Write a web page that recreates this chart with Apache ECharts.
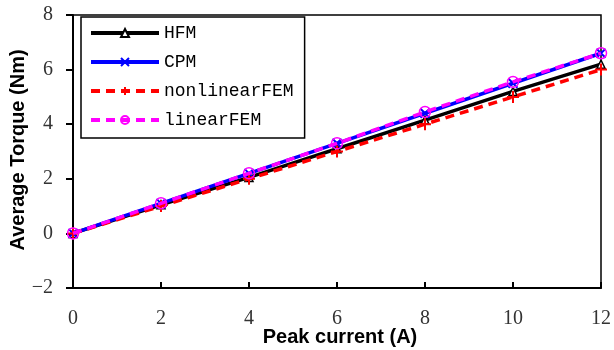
<!DOCTYPE html>
<html><head><meta charset="utf-8">
<script src="https://cdn.jsdelivr.net/npm/echarts@6/dist/echarts.min.js"></script>
<style>html,body{margin:0;padding:0;background:#fff}#c{width:614px;height:350px}</style>
</head><body><div id="c"></div>
<script>
const current = [0, 2, 4, 6, 8, 10, 12];
const hfm = [0, 1.05, 2.05, 3.1, 4.15, 5.2, 6.2];
const cpm = [0, 1.1, 2.2, 3.3, 4.4, 5.5, 6.6];
const nonlinearFEM = [0, 1.0, 2.0, 3.0, 4.0, 5.0, 6.0];
const linearFEM = [0, 1.1, 2.2, 3.3, 4.45, 5.55, 6.6];
const xTicks = [0, 2, 4, 6, 8, 10, 12];
const yTicks = [-2, 0, 2, 4, 6, 8];

const pair = arr => current.map((x, i) => [x, arr[i]]);
const chart = echarts.init(document.getElementById('c'), null, {renderer: 'canvas'});
const crossPath = 'path://M0,0L10,10M10,0L0,10';
const plusPath = 'path://M5,0L5,10M0,5L10,5';
chart.setOption({
  animation: false,
  grid: {left: 73, right: 2, top: 15, bottom: 62, show: true, borderColor: '#000', borderWidth: 1.5},
  xAxis: {
    type: 'value', min: 0, max: 12, interval: 2,
    axisLine: {show: true, onZero: false, lineStyle: {color: '#000', width: 2}},
    axisTick: {show: true, inside: true, length: 6, lineStyle: {color: '#000', width: 2}},
    axisLabel: {color: '#333', fontFamily: 'Liberation Serif', fontSize: 20, margin: 21,
      formatter: v => xTicks.includes(v) ? String(v) : ''},
    splitLine: {show: false}
  },
  yAxis: {
    type: 'value', min: -2, max: 8, interval: 2,
    axisLine: {show: true, onZero: false, lineStyle: {color: '#000', width: 2}},
    axisTick: {show: true, inside: false, length: 7, lineStyle: {color: '#000', width: 2}},
    axisLabel: {color: '#333', fontFamily: 'Liberation Serif', fontSize: 20, margin: 20,
      formatter: v => yTicks.includes(v) ? (v < 0 ? '\u2212' + (-v) : String(v)) : ''},
    splitLine: {show: false}
  },
  legend: {
    left: 81, top: 17, orient: 'vertical', itemGap: 11,
    itemWidth: 68, itemHeight: 10,
    backgroundColor: '#fff', borderColor: '#000', borderWidth: 1.5,
    padding: [7, 11, 9, 8],
    lineStyle: {width: 4},
    textStyle: {fontFamily: 'Liberation Mono', fontSize: 18, color: '#000'},
    data: ['HFM', 'CPM', 'nonlinearFEM', 'linearFEM']
  },
  series: [
    {name: 'HFM', type: 'line', data: pair(hfm), symbol: 'triangle', symbolSize: 8,
      lineStyle: {color: '#000', width: 3.5}, itemStyle: {color: '#fff', borderColor: '#000', borderWidth: 1.5}, z: 2},
    {name: 'CPM', type: 'line', data: pair(cpm), symbol: crossPath, symbolSize: 9,
      lineStyle: {color: '#0000ff', width: 3.5}, itemStyle: {color: 'none', borderColor: '#0000ff', borderWidth: 2}, z: 3},
    {name: 'nonlinearFEM', type: 'line', data: pair(nonlinearFEM), symbol: plusPath, symbolSize: 12,
      lineStyle: {color: '#ff0000', width: 3.5, type: [9, 6]}, itemStyle: {color: 'none', borderColor: '#ff0000', borderWidth: 2}, z: 4},
    {name: 'linearFEM', type: 'line', data: pair(linearFEM), symbol: 'circle', symbolSize: 11,
      lineStyle: {color: '#ff00ff', width: 3.5, type: [9, 6]}, itemStyle: {color: 'none', borderColor: '#ff00ff', borderWidth: 1.5}, z: 5}
  ],
  graphic: [
    {type: 'text', x: 18, y: 150, rotation: Math.PI / 2,
      style: {text: 'Average Torque (Nm)', font: 'bold 20px "Liberation Sans", Arial', fill: '#000', align: 'center', verticalAlign: 'middle'}},
    {type: 'text', x: 340, y: 337,
      style: {text: 'Peak current (A)', font: 'bold 20px "Liberation Sans", Arial', fill: '#000', align: 'center', verticalAlign: 'middle'}}
  ]
});
</script></body></html>
